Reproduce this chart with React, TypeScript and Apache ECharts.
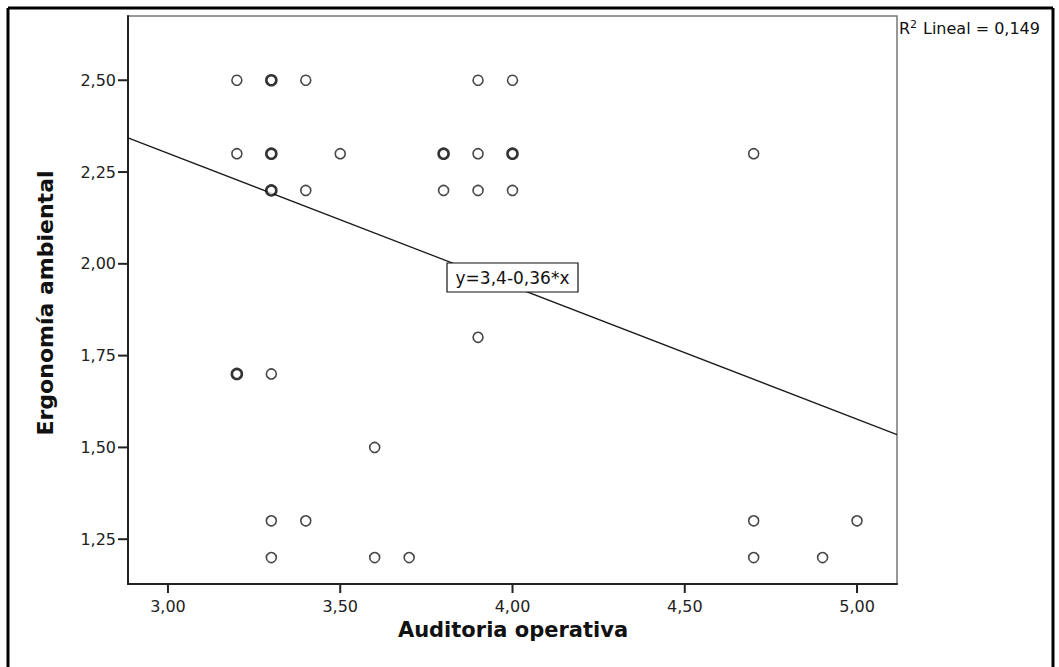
import React, { useEffect, useRef } from "react";
import * as echarts from "echarts";

// Scatter data: Auditoria operativa (x) vs Ergonomía ambiental (y)
const xValues: number[] = [
  3.2, 3.3, 3.3, 3.4, 3.9, 4.0,
  3.2, 3.3, 3.3, 3.5, 3.8, 3.8, 3.9, 4.0, 4.0, 4.7,
  3.3, 3.3, 3.4, 3.8, 3.9, 4.0,
  3.9,
  3.2, 3.2, 3.3,
  3.6,
  3.3, 3.4, 4.7, 5.0,
  3.3, 3.6, 3.7, 4.7, 4.9,
];
const yValues: number[] = [
  2.5, 2.5, 2.5, 2.5, 2.5, 2.5,
  2.3, 2.3, 2.3, 2.3, 2.3, 2.3, 2.3, 2.3, 2.3, 2.3,
  2.2, 2.2, 2.2, 2.2, 2.2, 2.2,
  1.8,
  1.7, 1.7, 1.7,
  1.5,
  1.3, 1.3, 1.3, 1.3,
  1.2, 1.2, 1.2, 1.2, 1.2,
];

// Fit line endpoints (y = 3,4 - 0,36*x) at the axis edges
const fitLineX: number[] = [2.884, 5.116];
const fitLineY: number[] = [2.343, 1.535];

const xTicks: number[] = [3.0, 3.5, 4.0, 4.5, 5.0];
const yTicks: number[] = [1.25, 1.5, 1.75, 2.0, 2.25, 2.5];
const xRange: number[] = [2.884, 5.116];
const yRange: number[] = [1.128, 2.675];

const xName = "Auditoria operativa";
const yName = "Ergonomía ambiental";
const equationLabel = "y=3,4-0,36*x";
const r2Label = "Lineal = 0,149";

const FONT = '"DejaVu Sans", "Liberation Sans", Arial, sans-serif';

const fmt = (v: number) => v.toFixed(2).replace(".", ",");

export default function App() {
  const ref = useRef<HTMLDivElement>(null);

  useEffect(() => {
    if (!ref.current) return;
    const chart = echarts.init(ref.current, null, { renderer: "svg" });

    const counts: Record<string, number> = {};
    xValues.forEach((x, i) => {
      const k = x + "_" + yValues[i];
      counts[k] = (counts[k] || 0) + 1;
    });
    const seen: Record<string, boolean> = {};
    const scatterData: any[] = [];
    xValues.forEach((x, i) => {
      const k = x + "_" + yValues[i];
      if (seen[k]) return;
      seen[k] = true;
      scatterData.push({
        value: [x, yValues[i]],
        itemStyle: { borderWidth: counts[k] > 1 ? 2.6 : 1.6, borderColor: counts[k] > 1 ? "#000" : "#1a1a1a" },
      });
    });

    const axisCommon = {
      type: "value" as const,
      splitLine: { show: false },
      axisTick: { show: false },
      axisLine: { show: true, onZero: false, lineStyle: { color: "#222", width: 2 } },
    };

    const baseGraphics: any[] = [
      // outer frame
      { type: "line", shape: { x1: 8, y1: 8, x2: 1053, y2: 8 }, style: { stroke: "#000", lineWidth: 3 } },
      { type: "line", shape: { x1: 8, y1: 8, x2: 8, y2: 667 }, style: { stroke: "#000", lineWidth: 3 } },
      { type: "line", shape: { x1: 1053, y1: 8, x2: 1053, y2: 667 }, style: { stroke: "#000", lineWidth: 3 } },
      // axis names
      {
        type: "text",
        x: 45,
        y: 303,
        rotation: Math.PI / 2,
        style: {
          text: yName,
          font: `bold 22px ${FONT}`,
          fill: "#111",
          align: "center",
          verticalAlign: "middle",
        },
      },
      {
        type: "text",
        x: 513,
        y: 630,
        style: {
          text: xName,
          font: `bold 21px ${FONT}`,
          fill: "#111",
          align: "center",
          verticalAlign: "middle",
        },
      },
      // equation box
      {
        type: "rect",
        z: 10,
        shape: { x: 447, y: 263, width: 131, height: 29 },
        style: { fill: "#fff", stroke: "#111", lineWidth: 1.2 },
      },
      {
        type: "text",
        z: 11,
        x: 512.5,
        y: 278,
        style: {
          text: equationLabel,
          font: `17px ${FONT}`,
          fill: "#111",
          align: "center",
          verticalAlign: "middle",
        },
      },
      // R² label
      {
        type: "text",
        x: 899,
        y: 28.5,
        style: { text: "R", font: `16px ${FONT}`, fill: "#111", align: "left", verticalAlign: "middle" },
      },
      {
        type: "text",
        x: 910,
        y: 24,
        style: { text: "2", font: `11px ${FONT}`, fill: "#111", align: "left", verticalAlign: "middle" },
      },
      {
        type: "text",
        x: 923,
        y: 28.5,
        style: { text: r2Label, font: `16px ${FONT}`, fill: "#111", align: "left", verticalAlign: "middle" },
      },
    ];

    chart.setOption({
      animation: false,
      backgroundColor: "#fff",
      grid: {
        left: 128,
        right: 162,
        top: 16,
        bottom: 83,
        show: true,
        borderColor: "#777",
        borderWidth: 1.5,
        backgroundColor: "transparent",
      },
      xAxis: {
        ...axisCommon,
        min: xRange[0],
        max: xRange[1],
        axisLabel: {
          customValues: xTicks,
          formatter: (v: number) => fmt(v),
          fontFamily: FONT,
          fontSize: 16,
          color: "#222",
          margin: 14,
        },
      },
      yAxis: {
        ...axisCommon,
        min: yRange[0],
        max: yRange[1],
        axisLabel: {
          customValues: yTicks,
          formatter: (v: number) => fmt(v),
          fontFamily: FONT,
          fontSize: 16,
          color: "#222",
          margin: 12,
        },
      },
      series: [
        {
          type: "line",
          data: fitLineX.map((x, i) => [x, fitLineY[i]]),
          showSymbol: false,
          symbol: "none",
          lineStyle: { color: "#1a1a1a", width: 1.3 },
          silent: true,
          z: 2,
        },
        {
          type: "scatter",
          data: scatterData,
          symbol: "circle",
          symbolSize: 10,
          itemStyle: { color: "#fff", borderColor: "#1a1a1a", borderWidth: 1.6 },
          z: 3,
        },
      ],
      graphic: baseGraphics,
    });

    // Axis ticks placed through the axes' own scales
    const rect = { left: 128, bottom: 667 - 83 };
    const tickGraphics: any[] = [];
    xTicks.forEach((v) => {
      const px = chart.convertToPixel({ xAxisIndex: 0 }, v) as number;
      tickGraphics.push({
        type: "line",
        shape: { x1: px, y1: rect.bottom, x2: px, y2: rect.bottom + 9 },
        style: { stroke: "#222", lineWidth: 2 },
      });
    });
    yTicks.forEach((v) => {
      const py = chart.convertToPixel({ yAxisIndex: 0 }, v) as number;
      tickGraphics.push({
        type: "line",
        shape: { x1: rect.left - 10, y1: py, x2: rect.left, y2: py },
        style: { stroke: "#222", lineWidth: 2 },
      });
    });
    chart.setOption({ graphic: [...baseGraphics, ...tickGraphics] });

    return () => chart.dispose();
  }, []);

  return (
    <div
      ref={ref}
      style={{ position: "absolute", left: 0, top: 0, width: 1059, height: 667, background: "#fff" }}
    />
  );
}
